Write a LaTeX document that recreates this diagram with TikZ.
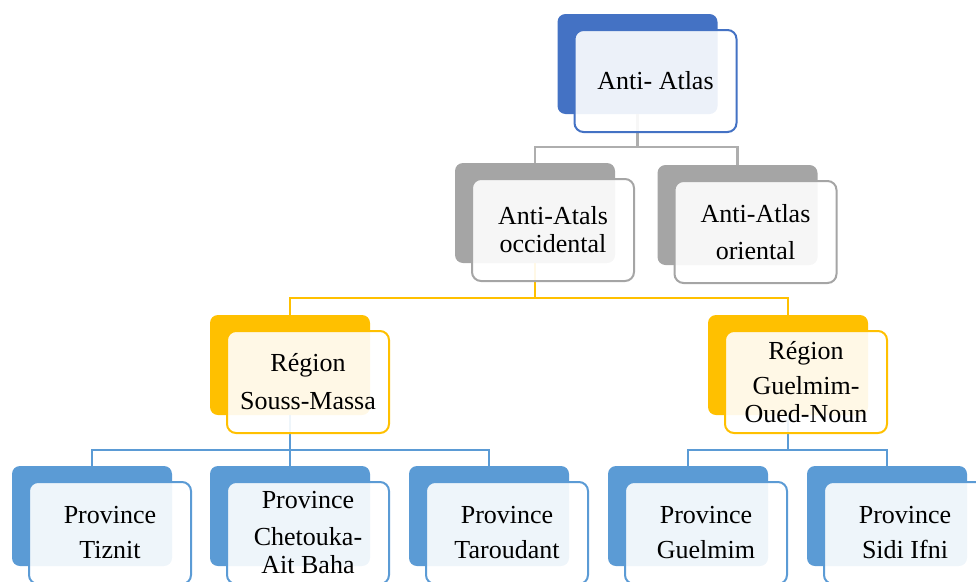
\documentclass[tikz,border=0pt]{standalone}
\usepackage{fontspec}
\setmainfont{Liberation Serif}
\usetikzlibrary{positioning}
\definecolor{topblue}{HTML}{4472C4}
\definecolor{midgray}{HTML}{A5A5A5}
\definecolor{gold}{HTML}{FFC000}
\definecolor{provblue}{HTML}{5B9BD5}

\begin{document}
\begin{tikzpicture}[x=1pt, y=-1pt,
   back/.style={rounded corners=8pt, minimum width=160pt, minimum height=100pt, inner sep=0pt},
   front/.style={draw, line width=2pt, rounded corners=9pt, fill=white, fill opacity=0.9,
                 text opacity=1, minimum width=162pt, minimum height=102pt, inner sep=0pt,
                 align=center, font=\fontsize{26}{28}\selectfont},
   link/.style={line width=2.2pt}]
  \useasboundingbox (0,0) rectangle (976,581);
  \clip (0,0) rectangle (976,581);
  % shadow boxes
  \node[back, fill=topblue]  (top) at (637.5,64) {};
  \node[back, fill=midgray]  (occ) at (535,213) {};
  \node[back, fill=midgray]  (ori) at (737.5,215) {};
  \node[back, fill=gold]     (souss) at (290,365) {};
  \node[back, fill=gold]     (guel) at (788,365) {};
  \node[back, fill=provblue] (tiz) at (92,516) {};
  \node[back, fill=provblue] (che) at (290,516) {};
  \node[back, fill=provblue] (tar) at (489,516) {};
  \node[back, fill=provblue] (gue) at (688,516) {};
  \node[back, fill=provblue] (sid) at (887,516) {};
  % links
  \foreach \c in {occ,ori} {\draw[link, midgray!90] (top.south) -- ++(0,33) -| (\c.north);}
  \foreach \c in {souss,guel} {\draw[link, gold] (occ.south) -- ++(0,35) -| (\c.north);}
  \foreach \c in {tiz,che,tar} {\draw[link, provblue] (souss.south) -- ++(0,35) -| (\c.north);}
  \foreach \c in {gue,sid} {\draw[link, provblue] (guel.south) -- ++(0,35) -| (\c.north);}
  % front boxes
  \node[front, draw=topblue]  (topf) at ([shift={(18,17)}]top.center) {Anti- Atlas};
  \node[front, draw=midgray]  (occf) at ([shift={(18,17)}]occ.center) {Anti-Atals\\occidental};
  \node[front, draw=midgray]  (orif) at ([shift={(18,17)}]ori.center) {Anti-Atlas\\[9pt]oriental};
  \node[front, draw=gold]     (soussf) at ([shift={(18,17)}]souss.center) {Région\\[10pt]Souss-Massa};
  \node[front, draw=gold]     (guelf) at ([shift={(18,17)}]guel.center) {Région\\[7pt]Guelmim-\\Oued-Noun};
  \node[front, draw=provblue] (tizf) at ([shift={(18,17)}]tiz.center) {Province\\[7pt]Tiznit};
  \node[front, draw=provblue] (chef) at ([shift={(18,17)}]che.center) {Province\\[9pt]Chetouka-\\Ait Baha};
  \node[front, draw=provblue] (tarf) at ([shift={(18,17)}]tar.center) {Province\\[7pt]Taroudant};
  \node[front, draw=provblue] (guef) at ([shift={(18,17)}]gue.center) {Province\\[7pt]Guelmim};
  \node[front, draw=provblue] (sidf) at ([shift={(18,17)}]sid.center) {Province\\[7pt]Sidi Ifni};
\end{tikzpicture}
\end{document}
